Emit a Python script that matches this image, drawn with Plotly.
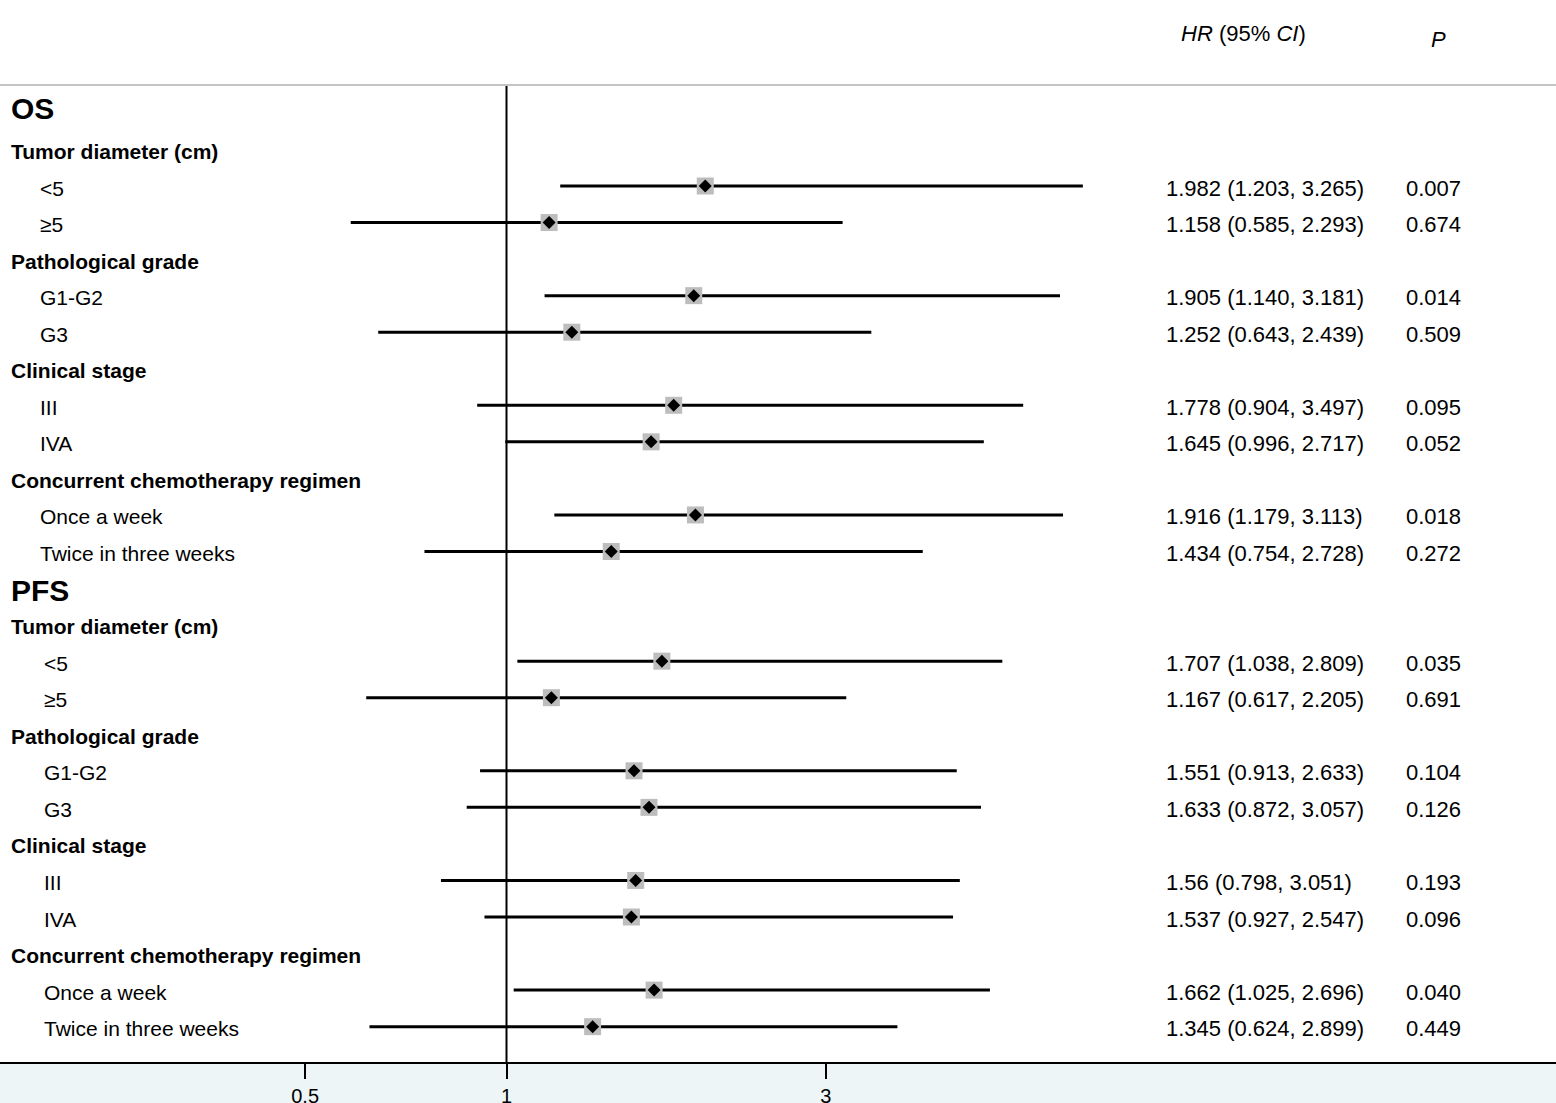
import plotly.graph_objects as go

# forest plot: subgroup HRs for OS and PFS
endpoints = ["OS", "PFS"]
groups = ["Tumor diameter (cm)", "Pathological grade", "Clinical stage",
          "Concurrent chemotherapy regimen"]
levels = [["<5", "≥5"], ["G1-G2", "G3"], ["III", "IVA"],
          ["Once a week", "Twice in three weeks"]]

# values as printed in the table columns
hr_os = ["1.982", "1.158", "1.905", "1.252", "1.778", "1.645", "1.916", "1.434"]
lo_os = ["1.203", "0.585", "1.140", "0.643", "0.904", "0.996", "1.179", "0.754"]
hi_os = ["3.265", "2.293", "3.181", "2.439", "3.497", "2.717", "3.113", "2.728"]
p_os = ["0.007", "0.674", "0.014", "0.509", "0.095", "0.052", "0.018", "0.272"]

hr_pfs = ["1.707", "1.167", "1.551", "1.633", "1.56", "1.537", "1.662", "1.345"]
lo_pfs = ["1.038", "0.617", "0.913", "0.872", "0.798", "0.927", "1.025", "0.624"]
hi_pfs = ["2.809", "2.205", "2.633", "3.057", "3.051", "2.547", "2.696", "2.899"]
p_pfs = ["0.035", "0.691", "0.104", "0.126", "0.193", "0.096", "0.040", "0.449"]

# right ends of the whiskers as they are drawn in the figure
whisker_hi_os = [7.27, 3.18, 6.72, 3.51, 5.92, 5.17, 6.79, 4.19]
whisker_hi_pfs = [5.51, 3.22, 4.71, 5.12, 4.76, 4.65, 5.28, 3.84]

tick_vals = [0.5, 1, 3]
tick_text = ["0.5", "1", "3"]

FONT = "Liberation Sans, Arial, sans-serif"
W, H = 1556, 1103
BOTTOM = 41
PH = H - BOTTOM

# (name, hr, lo, hi, p, whisker end, item indent, title shift)
sections = [
    (endpoints[0], hr_os, lo_os, hi_os, p_os, whisker_hi_os, 38, 4),
    (endpoints[1], hr_pfs, lo_pfs, hi_pfs, p_pfs, whisker_hi_pfs, 42, -2),
]

annotations = []
line_x, line_y = [], []
pt_x, pt_y = [], []


def ann(text, x, row, size, bold=False, yshift=0):
    if bold:
        text = "<b>" + text + "</b>"
    annotations.append(dict(text=text, x=x / W, xref="paper", y=row, yref="y",
                            xanchor="left", yanchor="middle", showarrow=False,
                            yshift=yshift,
                            font=dict(family=FONT, size=size, color="black")))


row = 0
for name, hr, lo, hi, p, whi, indent, tshift in sections:
    ann(name, 9, row, 30, bold=True, yshift=tshift)
    row += 1
    k = 0
    for g, labs in zip(groups, levels):
        ann(g, 9, row, 21, bold=True, yshift=-2)
        row += 1
        for lab in labs:
            ann(lab, indent, row, 21, yshift=-2)
            ann(f"{hr[k]} ({lo[k]}, {hi[k]})", 1164, row, 22, yshift=-2)
            ann(p[k], 1404, row, 22, yshift=-2)
            line_x += [float(lo[k]), whi[k], None]
            line_y += [row, row, None]
            pt_x.append(float(hr[k]))
            pt_y.append(row)
            k += 1
            row += 1

# column headers
annotations.append(dict(text="<i>HR</i> (95% <i>CI</i>)", x=1179 / W, xref="paper",
                        y=(H - 35) / H, yref="paper", xanchor="left", yanchor="middle",
                        showarrow=False, font=dict(family=FONT, size=22, color="black")))
annotations.append(dict(text="<i>P</i>", x=1429 / W, xref="paper",
                        y=(H - 41) / H, yref="paper", xanchor="left", yanchor="middle",
                        showarrow=False, font=dict(family=FONT, size=22, color="black")))

fig = go.Figure()
fig.add_trace(go.Scatter(x=line_x, y=line_y, mode="lines",
                         line=dict(color="black", width=3), hoverinfo="skip"))
fig.add_trace(go.Scatter(x=pt_x, y=pt_y, mode="markers",
                         marker=dict(symbol="square", size=17, color="#BDBDBD",
                                     line=dict(width=0))))
fig.add_trace(go.Scatter(x=pt_x, y=pt_y, mode="markers",
                         marker=dict(symbol="diamond", size=10, color="black",
                                     line=dict(width=0))))

# row spacing: row 0 at 112.9 px, 36.55 px per row
r_top = -112.9 / 36.55
r_bot = (PH - 112.9) / 36.55

fig.update_layout(
    width=W, height=H, autosize=False,
    margin=dict(l=0, r=0, t=0, b=BOTTOM, autoexpand=False),
    paper_bgcolor="#EEF5F7", plot_bgcolor="white",
    showlegend=False,
    annotations=annotations,
    xaxis=dict(type="log", range=[-506.5 / 669, (W - 506.5) / 669],
               tickvals=tick_vals, ticktext=tick_text, automargin=False,
               ticks="outside", ticklen=15, tickwidth=2, tickcolor="black",
               showline=True, linewidth=2, linecolor="black",
               showgrid=False, zeroline=False,
               tickfont=dict(family=FONT, size=20, color="black")),
    yaxis=dict(range=[r_bot, r_top], visible=False, showgrid=False,
               zeroline=False, automargin=False),
    shapes=[
        dict(type="line", xref="paper", x0=0, x1=1, yref="paper",
             y0=(PH - 85) / PH, y1=(PH - 85) / PH,
             line=dict(color="#C4C4C4", width=2)),
        dict(type="line", xref="x", x0=1, x1=1, yref="paper",
             y0=0, y1=(PH - 86) / PH, layer="below",
             line=dict(color="black", width=2)),
    ],
)

# drop the page's default body margin so the figure sits at the top-left corner
fig.write_html("out.html", config={"displayModeBar": False},
               post_script="document.body.style.margin='0';"
                           "document.body.style.overflow='hidden';")
